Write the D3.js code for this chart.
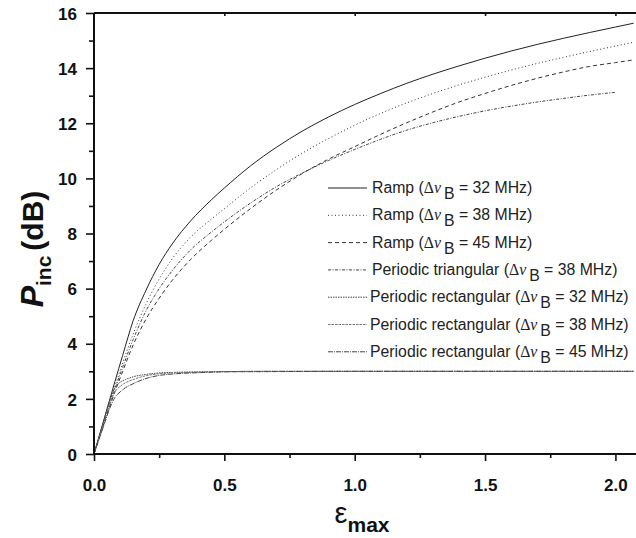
<!DOCTYPE html>
<html><head><meta charset="utf-8">
<script src="https://cdn.jsdelivr.net/npm/d3@7"></script>
<style>body{margin:0;background:#fff}svg{display:block}</style>
</head><body>
<svg id="c" width="636" height="538"></svg>
<script>
// ---- data ----
const rampEps = [0, 0.02, 0.05, 0.08, 0.11, 0.15, 0.2, 0.25, 0.3, 0.37, 0.45, 0.5, 0.6, 0.7, 0.8, 0.9, 1.0, 1.1, 1.2, 1.3, 1.4, 1.5, 1.6, 1.7, 1.8, 1.9, 2.0, 2.07];
const ramp32 = [0, 0.65, 1.63, 2.62, 3.58, 4.83, 5.95, 6.88, 7.62, 8.45, 9.22, 9.65, 10.45, 11.13, 11.72, 12.23, 12.68, 13.08, 13.45, 13.78, 14.08, 14.36, 14.62, 14.86, 15.08, 15.29, 15.49, 15.63];
const ramp38 = [0, 0.62, 1.55, 2.45, 3.3, 4.35, 5.45, 6.35, 7.08, 7.86, 8.52, 8.9, 9.65, 10.32, 10.92, 11.45, 11.93, 12.36, 12.74, 13.08, 13.39, 13.67, 13.93, 14.17, 14.39, 14.6, 14.8, 14.94];
const ramp45 = [0, 0.58, 1.45, 2.25, 3.0, 3.95, 4.9, 5.65, 6.3, 7.05, 7.75, 8.15, 8.9, 9.58, 10.18, 10.7, 11.15, 11.6, 12.02, 12.41, 12.77, 13.08, 13.37, 13.63, 13.86, 14.06, 14.2, 14.3];
const triEps = [0, 0.02, 0.05, 0.08, 0.11, 0.15, 0.2, 0.25, 0.3, 0.37, 0.45, 0.5, 0.6, 0.7, 0.8, 0.9, 1.0, 1.1, 1.2, 1.3, 1.4, 1.5, 1.6, 1.7, 1.8, 1.9, 2.0];
const tri38 = [0, 0.6, 1.5, 2.35, 3.15, 4.15, 5.2, 6.0, 6.65, 7.4, 8.05, 8.42, 9.1, 9.7, 10.2, 10.65, 11.05, 11.42, 11.75, 12.02, 12.25, 12.45, 12.62, 12.77, 12.9, 13.02, 13.12];
const rectEps = [0, 0.02, 0.04, 0.06, 0.08, 0.1, 0.12, 0.15, 0.2, 0.25, 0.3, 0.4, 0.5, 0.7, 1.0, 1.5, 2.07];
const rect32 = [0, 0.65, 1.3, 1.95, 2.4, 2.6, 2.7, 2.8, 2.89, 2.94, 2.96, 2.98, 2.99, 3.0, 3.0, 3.0, 3.0];
const rect38 = [0, 0.6, 1.2, 1.8, 2.25, 2.45, 2.58, 2.7, 2.84, 2.91, 2.94, 2.97, 2.99, 3.0, 3.0, 3.0, 3.0];
const rect45 = [0, 0.55, 1.1, 1.65, 2.05, 2.25, 2.4, 2.55, 2.74, 2.85, 2.9, 2.95, 2.98, 2.99, 3.0, 3.0, 3.0];
const xTicks = [0, 0.5, 1.0, 1.5, 2.0];
const yTicks = [0, 2, 4, 6, 8, 10, 12, 14, 16];
const seriesNames = ["Ramp", "Ramp", "Ramp", "Periodic triangular", "Periodic rectangular", "Periodic rectangular", "Periodic rectangular"];
const seriesBW = ["32", "38", "45", "38", "32", "38", "45"];

// ---- layout ----
const svg = d3.select("#c");
const x = d3.scaleLinear().domain([0, 2.079]).range([94, 636]);
const y = d3.scaleLinear().domain([0, 16]).range([454, 13]);

const series = [
  {eps: rampEps, v: ramp32, dash: null, color: "#222", w: 1},
  {eps: rampEps, v: ramp38, dash: "1,2.5", color: "#333", w: 1},
  {eps: rampEps, v: ramp45, dash: "4,3", color: "#333", w: 1},
  {eps: triEps, v: tri38, dash: "3,1.5,1,1.5", color: "#444", w: 1},
  {eps: rectEps, v: rect32, dash: "1.5,1", color: "#444", w: 1},
  {eps: rectEps, v: rect38, dash: "2.5,1", color: "#777", w: 1},
  {eps: rectEps, v: rect45, dash: "5,1,1,1", color: "#444", w: 1}
];

const line = d3.line().x(d => x(d[0])).y(d => y(d[1])).curve(d3.curveMonotoneX);
series.forEach(s => {
  svg.append("path")
    .attr("d", line(s.eps.map((e, i) => [e, s.v[i]])))
    .attr("fill", "none").attr("stroke", s.color).attr("stroke-width", s.w)
    .attr("stroke-dasharray", s.dash);
});

// axes
const xAxis = d3.axisBottom(x).tickValues(xTicks).tickSize(7).tickFormat(d3.format(".1f"));
const gx = svg.append("g").attr("transform", "translate(0,454)").call(xAxis);
const gxm = svg.append("g").attr("transform", "translate(0,454)")
  .call(d3.axisBottom(x).tickValues([0.25, 0.75, 1.25, 1.75]).tickSize(4).tickFormat(""));
const yAxis = d3.axisLeft(y).tickValues(yTicks).tickSize(8);
const gy = svg.append("g").attr("transform", "translate(94,0)").call(yAxis);
const gym = svg.append("g").attr("transform", "translate(94,0)")
  .call(d3.axisLeft(y).tickValues([1, 3, 5, 7, 9, 11, 13, 15]).tickSize(5).tickFormat(""));
const gt = svg.append("g").attr("transform", "translate(0,13)")
  .call(d3.axisBottom(x).tickValues([0.5, 1.0, 1.5, 2.0]).tickSize(3).tickFormat(""));

[gx, gxm, gy, gym, gt].forEach(g => {
  g.select(".domain").remove();
  g.selectAll(".tick line").attr("stroke", "#111").attr("stroke-width", 1.6);
});
gx.selectAll("text").attr("font-family", "Liberation Sans, Arial, sans-serif")
  .attr("font-weight", "bold").attr("font-size", 17).attr("fill", "#111").attr("dy", 0).attr("y", 37);
gy.selectAll("text").attr("font-family", "Liberation Sans, Arial, sans-serif")
  .attr("font-weight", "bold").attr("font-size", 17).attr("fill", "#111").attr("x", -17).attr("dy", "0.36em");

svg.append("line").attr("x1", 94).attr("x2", 636).attr("y1", 454).attr("y2", 454).attr("stroke", "#111").attr("stroke-width", 2);
svg.append("line").attr("x1", 94).attr("x2", 94).attr("y1", 13).attr("y2", 454).attr("stroke", "#111").attr("stroke-width", 2);
svg.append("line").attr("x1", 94).attr("x2", 636).attr("y1", 13).attr("y2", 13).attr("stroke", "#111").attr("stroke-width", 2);

// axis titles
const xt = svg.append("text").attr("x", 362).attr("y", 523).attr("text-anchor", "middle")
  .attr("font-family", "Liberation Sans, Arial, sans-serif").attr("fill", "#111");
xt.append("tspan").attr("font-size", 29).text("ε");
xt.append("tspan").attr("font-size", 21).attr("font-weight", "bold").attr("dy", 9).text("max");

const yt = svg.append("text").attr("transform", "translate(43,249) rotate(-90)").attr("text-anchor", "middle")
  .attr("font-family", "Liberation Sans, Arial, sans-serif").attr("font-weight", "bold").attr("fill", "#111");
yt.append("tspan").attr("font-size", 32).attr("font-style", "italic").text("P");
yt.append("tspan").attr("font-size", 21).attr("dy", 8).text("inc");
yt.append("tspan").attr("font-size", 30).attr("dy", -8).attr("dx", 5).text("(dB)");

// legend
const lg = svg.append("g");
series.forEach((s, i) => {
  const by = 193 + i * 27.3;
  lg.append("line").attr("x1", 328).attr("x2", 367).attr("y1", by - 5).attr("y2", by - 5)
    .attr("stroke", s.color).attr("stroke-width", 1).attr("stroke-dasharray", s.dash);
  const t = lg.append("text").attr("x", i < 4 ? 372 : 370).attr("y", by)
    .attr("font-family", "Liberation Sans, Arial, sans-serif").attr("font-size", 15.8).attr("fill", "#222");
  t.append("tspan").text(seriesNames[i] + " (");
  t.append("tspan").attr("font-family", "Liberation Serif, Times New Roman, serif").text("Δ");
  t.append("tspan").attr("font-family", "Liberation Serif, Times New Roman, serif").attr("font-style", "italic").text("ν");
  t.append("tspan").attr("dy", 6).attr("dx", 3).text("B");
  t.append("tspan").attr("dy", -6).text(" = " + seriesBW[i] + " MHz)");
});
</script>
</body></html>
